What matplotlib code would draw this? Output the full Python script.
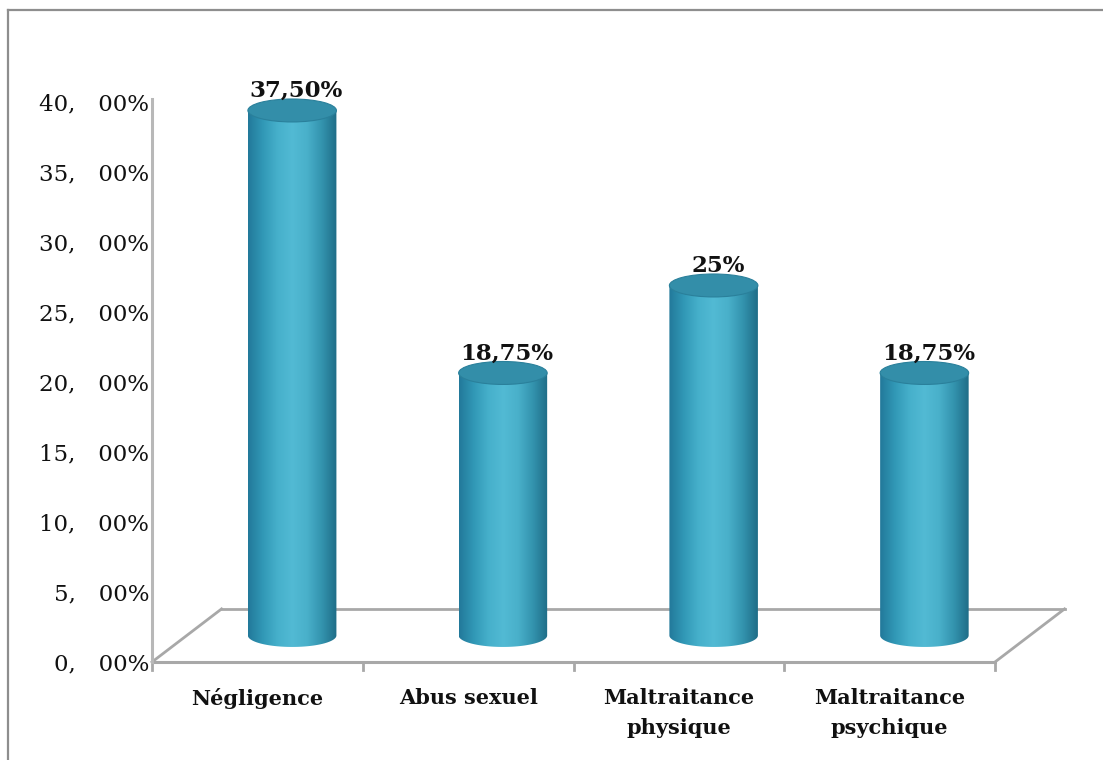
import numpy as np
import matplotlib
matplotlib.use("Agg")
import matplotlib.pyplot as plt
from matplotlib.patches import Ellipse, PathPatch
from matplotlib.path import Path
from matplotlib.colors import LinearSegmentedColormap
from matplotlib.lines import Line2D

# ---- data ----
categories = ["Négligence", "Abus sexuel", "Maltraitance\nphysique", "Maltraitance\npsychique"]
values = [37.50, 18.75, 25.0, 18.75]
value_labels = ["37,50%", "18,75%", "25%", "18,75%"]
y_ticks = [0, 5, 10, 15, 20, 25, 30, 35, 40]
y_tick_labels = ["0,\u200300%", "5,\u200300%", "10,\u200300%", "15,\u200300%", "20,\u200300%",
                 "25,\u200300%", "30,\u200300%", "35,\u200300%", "40,\u200300%"]

W, H = 1103, 760
fig = plt.figure(figsize=(W / 100, H / 100), dpi=100)
fig.patch.set_facecolor("white")

# plot area: x in category units, y in percent
ax = fig.add_axes([152 / W, 98 / H, 843 / W, 560 / H])
ax.set_xlim(-0.5, 3.5)
ax.set_ylim(0, 40)
for s in ax.spines.values():
    s.set_visible(False)
ax.set_xticks([])
ax.set_yticks(y_ticks)
ax.set_yticklabels(y_tick_labels, family="DejaVu Serif", fontsize=16.5, color="#111111")
ax.tick_params(axis="y", length=0, pad=2)
ax.patch.set_alpha(0)

# 3-D depth offset of the floor (category units, percent units)
dx, dy = 0.33, 3.79
n = len(categories)
x_lo, x_hi = -0.5, n - 0.5
floor_col = "#a8a8a8"

# floor parallelogram
ax.plot([x_lo, x_hi], [0, 0], color=floor_col, lw=2.2, clip_on=False, zorder=1)
ax.plot([x_lo + dx, x_hi + dx], [dy, dy], color=floor_col, lw=2.0, clip_on=False, zorder=1)
ax.plot([x_lo, x_lo + dx], [0, dy], color=floor_col, lw=2.0, clip_on=False, zorder=1)
ax.plot([x_hi, x_hi + dx], [0, dy], color=floor_col, lw=2.0, clip_on=False, zorder=1)
# category tick marks on the front edge
for xt in np.arange(x_lo, x_hi + 0.01, 1.0):
    ax.plot([xt, xt], [0, -0.6], color=floor_col, lw=2.0, clip_on=False, zorder=1)
# value axis line
ax.plot([x_lo, x_lo], [0, 40.2], color="#b8b8b8", lw=2.2, clip_on=False, zorder=1)

# cylinders
cmap = LinearSegmentedColormap.from_list(
    "cyl", ["#22799a", "#3198b6", "#46b0cb", "#52bad4", "#49b0ca", "#3393ae", "#1f6d87"])
grad = np.linspace(0, 1, 256).reshape(1, -1)
half_w = 0.21
ry = 0.82
base = dy / 2
t = np.linspace(np.pi, 2 * np.pi, 80)

for i, (v, lab) in enumerate(zip(values, value_labels)):
    xc = i + dx / 2
    x0, x1 = xc - half_w, xc + half_w
    top = base + v
    # body outline: sides + lower half of the base ellipse
    arc_x = xc + half_w * np.cos(t)
    arc_y = base + ry * np.sin(t)
    verts = [(x0, top)] + list(zip(arc_x, arc_y)) + [(x1, top), (x0, top)]
    codes = [Path.MOVETO] + [Path.LINETO] * (len(verts) - 2) + [Path.CLOSEPOLY]
    body = PathPatch(Path(verts, codes), transform=ax.transData, facecolor="none", edgecolor="none")
    im = ax.imshow(grad, extent=[x0, x1, base - ry, top], aspect="auto", cmap=cmap,
                   interpolation="bicubic", zorder=3)
    im.set_clip_path(body)
    # top cap
    cap = Ellipse((xc, top), 2 * half_w, 2 * ry, angle=0, facecolor="#338ea9",
                  edgecolor="#2a809b", lw=0.8, zorder=4, clip_on=False)
    ax.add_patch(cap)
    ax.text(xc + 0.02, top + ry * 0.75, lab, ha="center", va="bottom", family="DejaVu Serif",
            fontweight="bold", fontsize=16.5, color="#111111", zorder=5, clip_on=False)

# category labels
for i, c in enumerate(categories):
    ax.text(i, -1.85, c, ha="center", va="top", family="DejaVu Serif", fontweight="bold",
            fontsize=15, color="#111111", linespacing=1.6, clip_on=False)

ax.set_xlim(-0.5, 3.5)
ax.set_ylim(0, 40)

# outer frame (top and left edges)
frame_col = "#8e8e8e"
fig.add_artist(Line2D([8 / W, 1.0], [1 - 10 / H, 1 - 10 / H], transform=fig.transFigure,
                      color=frame_col, lw=1.6))
fig.add_artist(Line2D([8 / W, 8 / W], [0, 1 - 10 / H], transform=fig.transFigure,
                      color=frame_col, lw=1.6))

fig.savefig("out.png", dpi=100, facecolor="white")
